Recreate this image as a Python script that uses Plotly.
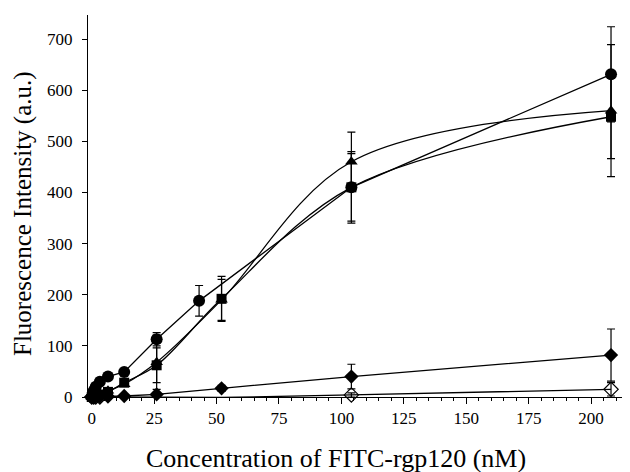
import plotly.graph_objects as go

conc = [0, 0.8, 1.6, 3.25, 6.5, 13, 26, 52, 104, 208]
conc_circle = [0, 0.8, 1.6, 3.25, 6.5, 13, 26, 43, 104, 208]

circle_vals = [0, 12, 20, 30, 40, 49, 113, 188, 410, 631]
circle_err = [0, 0, 0, 0, 0, 0, 13, 30, 66, 93]

triangle_vals = [0, 2, 4, 6, 12, 25, 68, 190, 460, 560]
triangle_err = [0, 0, 0, 0, 0, 0, 53, 40, 58, 129]

square_vals = [0, 2, 3, 5, 10, 28, 62, 192, 410, 548]
square_err = [0, 0, 0, 0, 0, 0, 34, 44, 70, 82]

diamond_vals = [0, 0, 1, 1, 1, 2, 5, 17, 40, 82]
diamond_err = [0, 0, 0, 0, 0, 0, 3, 6, 24, 51]

open_diamond_vals = [0, 0, 0, 0, -1, -1, -1, -1, 4, 15]
open_diamond_err = [0, 0, 0, 0, 0, 0, 0, 0, 4, 13]

x_ticks = [0, 25, 50, 75, 100, 125, 150, 175, 200]
y_ticks = [0, 100, 200, 300, 400, 500, 600, 700]

x_title = "Concentration of FITC-rgp120 (nM)"
y_title = "Fluorescence Intensity (a.u.)"

FONT = "Liberation Serif"


def err(arr):
    return dict(type="data", array=arr, visible=True, color="black",
                thickness=1.2, width=4)


fig = go.Figure()

fig.add_trace(go.Scatter(
    x=conc, y=open_diamond_vals, mode="lines+markers",
    line=dict(color="black", width=1.3),
    marker=dict(symbol="diamond-open", size=11, color="black",
                line=dict(width=1.2, color="black")),
    error_y=err(open_diamond_err), cliponaxis=False))

fig.add_trace(go.Scatter(
    x=conc, y=diamond_vals, mode="lines+markers",
    line=dict(color="black", width=1.3),
    marker=dict(symbol="diamond", size=11, color="black"),
    error_y=err(diamond_err), cliponaxis=False))

fig.add_trace(go.Scatter(
    x=conc, y=square_vals, mode="lines+markers",
    line=dict(color="black", width=1.3, shape="spline", smoothing=1.0),
    marker=dict(symbol="square", size=10, color="black"),
    error_y=err(square_err), cliponaxis=False))

fig.add_trace(go.Scatter(
    x=conc, y=triangle_vals, mode="lines+markers",
    line=dict(color="black", width=1.3, shape="spline", smoothing=1.0),
    marker=dict(symbol="triangle-up", size=11, color="black"),
    error_y=err(triangle_err), cliponaxis=False))

fig.add_trace(go.Scatter(
    x=conc_circle, y=circle_vals, mode="lines+markers",
    line=dict(color="black", width=1.3),
    marker=dict(symbol="circle", size=12, color="black"),
    error_y=err(circle_err), cliponaxis=False))

fig.update_layout(
    width=622, height=464,
    margin=dict(l=80, r=5, t=7, b=75),
    paper_bgcolor="white", plot_bgcolor="white",
    showlegend=False,
    font=dict(family=FONT, color="black", size=17),
    annotations=[
        dict(text=x_title, xref="paper", yref="paper", x=0.462, y=0,
             xanchor="center", yanchor="middle", yshift=-61, showarrow=False,
             font=dict(family=FONT, size=26, color="black")),
        dict(text=y_title, xref="paper", yref="paper", x=0, y=0.479,
             xanchor="center", yanchor="middle", xshift=-65, textangle=-90,
             showarrow=False, font=dict(family=FONT, size=25, color="black")),
    ],
)

fig.update_xaxes(
    range=[-1.5, 213.6], tickvals=x_ticks, ticktext=[str(v) for v in x_ticks],
    automargin=False,
    showgrid=False, zeroline=False, showline=True, linecolor="black", linewidth=1,
    ticks="outside", ticklen=6, tickcolor="black", tickwidth=1,
    minor=dict(dtick=5, tick0=0, ticks="outside", ticklen=3, tickcolor="black", showgrid=False),
    tickfont=dict(family=FONT, size=17),
)

fig.update_yaxes(
    range=[0, 747], tickvals=y_ticks, ticktext=[str(v) for v in y_ticks],
    automargin=False,
    showgrid=False, zeroline=False, showline=True, linecolor="black", linewidth=1,
    ticks="outside", ticklen=5, tickcolor="black", tickwidth=1,
    ticklabelstandoff=6,
    tickfont=dict(family=FONT, size=17),
)

fig.write_html("out.html")
